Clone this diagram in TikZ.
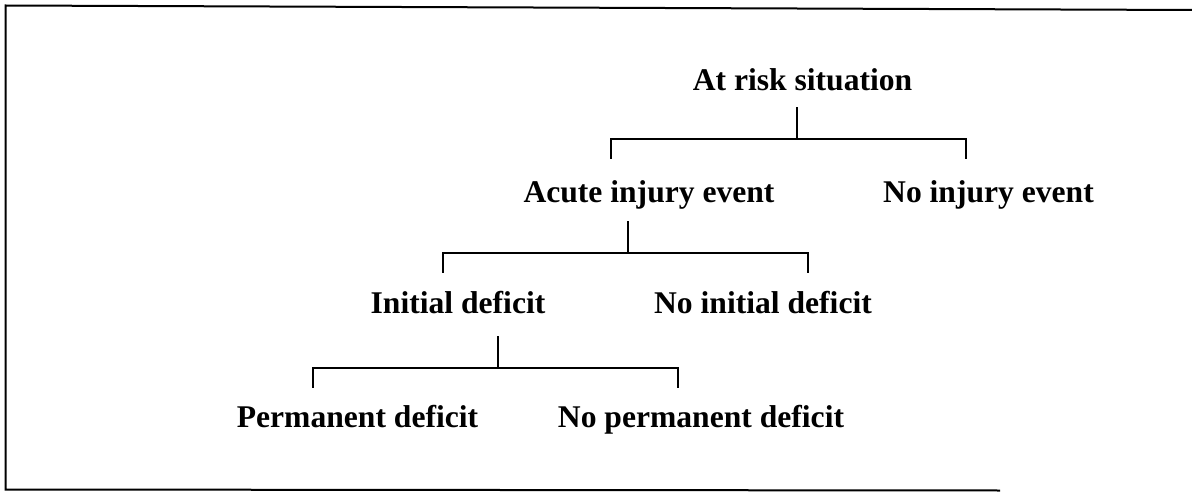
\documentclass[tikz,border=0pt]{standalone}
\usepackage{fontspec}
\setmainfont{Liberation Serif}
\begin{document}
\begin{tikzpicture}[x=1pt,y=-1pt,
  lbl/.style={anchor=base,inner sep=0pt,font=\bfseries\fontsize{31.6}{38}\selectfont},
  tree/.style={line width=1.4pt,line cap=rect},
  frame/.style={line width=2pt}]
\useasboundingbox (0,0) rectangle (1192,492);
% frame
\coordinate (ftl) at (5.5,5.5);
\coordinate (ftr) at (1192,10);
\coordinate (fbl) at (5.5,489.5);
\coordinate (fbr) at (1000,490.5);
\draw[frame] (ftr) -- (ftl) -- (fbl) -- (fbr);
% nodes
\node[lbl] (root) at (802.5,91) {At risk situation};
\node[lbl] (acute) at (649,202) {Acute injury event};
\node[lbl] (noinj) at (988.5,202) {No injury event};
\node[lbl] (init) at (458,313) {Initial deficit};
\node[lbl] (noinit) at (763,313) {No initial deficit};
\node[lbl] (perm) at (357.5,427) {Permanent deficit};
\node[lbl] (noperm) at (701,427) {No permanent deficit};
% level 1 connectors
\coordinate (s1) at (797,108);
\coordinate (j1) at (797,139);
\coordinate (l1) at (611,139);
\coordinate (r1) at (966,139);
\coordinate (dl1) at (611,158);
\coordinate (dr1) at (966,158);
\draw[tree] (s1) -- (j1);
\draw[tree] (dl1) -- (l1) -- (r1) -- (dr1);
% level 2 connectors
\coordinate (s2) at (628,222);
\coordinate (j2) at (628,253);
\coordinate (l2) at (443,253);
\coordinate (r2) at (808,253);
\coordinate (dl2) at (443,272);
\coordinate (dr2) at (808,272);
\draw[tree] (s2) -- (j2);
\draw[tree] (dl2) -- (l2) -- (r2) -- (dr2);
% level 3 connectors
\coordinate (s3) at (498,337);
\coordinate (j3) at (498,368);
\coordinate (l3) at (313,368);
\coordinate (r3) at (678,368);
\coordinate (dl3) at (313,387);
\coordinate (dr3) at (678,387);
\draw[tree] (s3) -- (j3);
\draw[tree] (dl3) -- (l3) -- (r3) -- (dr3);
\end{tikzpicture}
\end{document}
